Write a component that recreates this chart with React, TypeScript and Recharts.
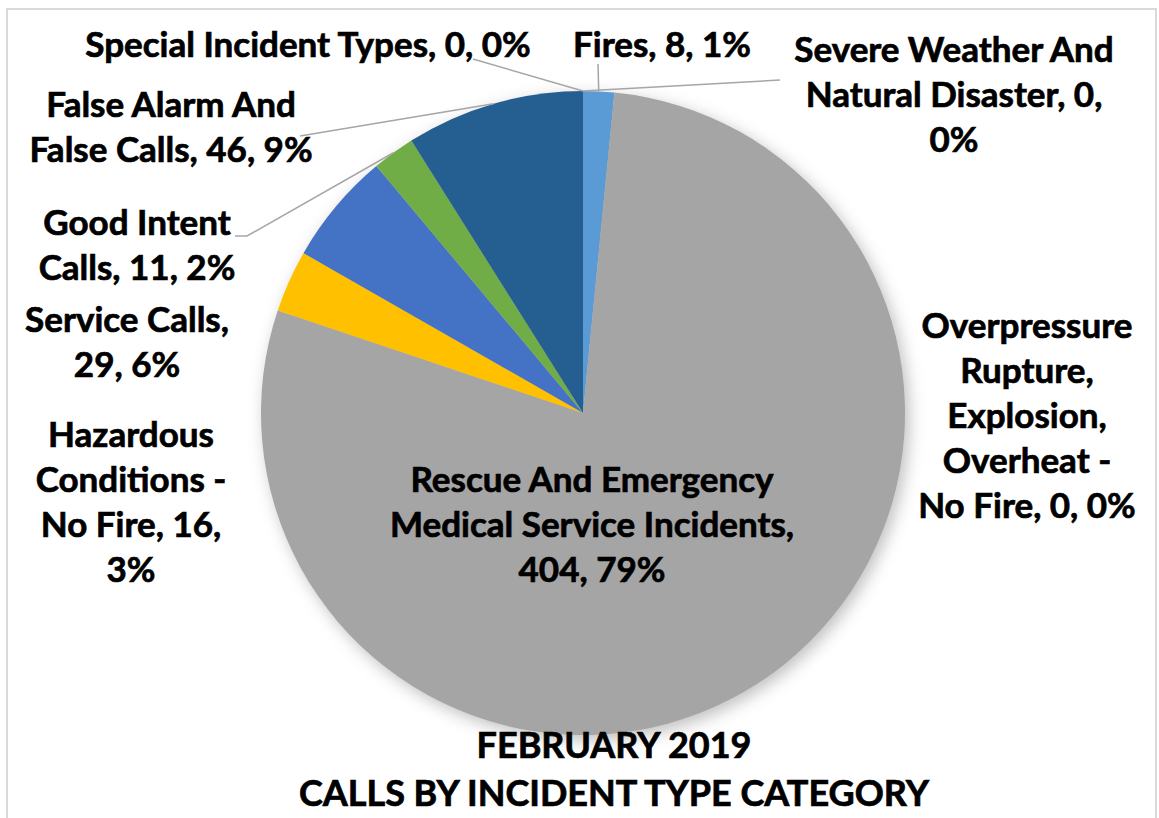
import { PieChart, Pie, Cell } from 'recharts'

// incident categories in chart order (clockwise from 12 o'clock)
const CATEGORIES = [
    'Fires',
    'Overpressure Rupture, Explosion, Overheat - No Fire',
    'Rescue And Emergency Medical Service Incidents',
    'Hazardous Conditions - No Fire',
    'Service Calls',
    'Good Intent Calls',
    'False Alarm And False Calls',
    'Severe Weather And Natural Disaster',
    'Special Incident Types',
]
const CALLS = [8, 0, 404, 16, 29, 11, 46, 0, 0]
const PERCENT_LABELS = ['1%', '0%', '79%', '3%', '6%', '2%', '9%', '0%', '0%']
const TITLE_LINES = ['FEBRUARY 2019', 'CALLS BY INCIDENT TYPE CATEGORY']

const COLORS = ['#5B9BD5', '#ED7D31', '#A5A5A5', '#FFC000', '#4472C4', '#70AD47', '#255E91', '#9E480E', '#636363']

const FONT = 'Lato, "Open Sans", sans-serif'
const LABEL_SIZE = 35
const LINE_H = 45
const LEADER = '#A6A6A6'

// where each data label sits (centre x, first baseline), how its words wrap, and leader line end points
const LABEL_LAYOUT: { x: number; y: number; breaks: number[]; leader?: [number, number][] }[] = [
    { x: 662, y: 57, breaks: [4], leader: [[598, 64]] },
    { x: 1027, y: 338, breaks: [1, 1, 1, 2, 4] },
    { x: 592, y: 492, breaks: [3, 3, 2] },
    { x: 131, y: 447, breaks: [1, 2, 3, 1] },
    { x: 127, y: 332, breaks: [2, 2] },
    { x: 137, y: 235, breaks: [2, 3], leader: [[247, 236], [235, 236]] },
    { x: 171, y: 117, breaks: [3, 4], leader: [[300, 136]] },
    { x: 954, y: 62, breaks: [3, 3, 1], leader: [[780, 80]] },
    { x: 308, y: 57, breaks: [6], leader: [[473, 59]] },
]

const data = CATEGORIES.map((name, i) => ({ name, value: CALLS[i] }))

const RAD = Math.PI / 180

const renderLabel = (props: any) => {
    const { cx, cy, midAngle, outerRadius, index } = props
    const lay = LABEL_LAYOUT[index]
    const words = `${CATEGORIES[index]}, ${CALLS[index]}, ${PERCENT_LABELS[index]}`.split(' ')
    const lines: string[] = []
    let k = 0
    for (const n of lay.breaks) {
        lines.push(words.slice(k, k + n).join(' '))
        k += n
    }
    const sx = cx + outerRadius * Math.cos(-midAngle * RAD)
    const sy = cy + outerRadius * Math.sin(-midAngle * RAD)
    const pts = [[sx, sy], ...(lay.leader || [])].map((p) => p.join(',')).join(' ')
    return (
        <g key={`label-${index}`}>
            {lay.leader && <polyline points={pts} fill="none" stroke={LEADER} strokeWidth={1.5} />}
            <text
                x={lay.x}
                y={lay.y}
                textAnchor="middle"
                fontFamily={FONT}
                fontWeight={700}
                fontSize={LABEL_SIZE}
                fill="#000"
                stroke="#000"
                strokeWidth={0.7}
            >
                {lines.map((l, i) => (
                    <tspan key={i} x={lay.x} dy={i === 0 ? 0 : LINE_H}>
                        {l}
                    </tspan>
                ))}
            </text>
        </g>
    )
}

export default function App() {
    return (
        <div style={{ position: 'relative', width: 1159, height: 818, overflow: 'hidden', background: '#fff' }}>
            <style>{`body { margin: 0; } .pie-shadow { filter: blur(6px); }`}</style>
            <div
                style={{
                    position: 'absolute',
                    left: 6,
                    top: 8,
                    width: 1147,
                    height: 840,
                    border: '2px solid #D9D9D9',
                }}
            />
            <PieChart width={1159} height={818} margin={{ top: 0, right: 0, bottom: 0, left: 0 }}>
                <Pie
                    data={data}
                    dataKey="value"
                    cx={587}
                    cy={418}
                    outerRadius={322}
                    startAngle={90}
                    endAngle={-270}
                    stroke="none"
                    fill="rgba(0,0,0,0.25)"
                    className="pie-shadow"
                    isAnimationActive={false}
                    label={false}
                    labelLine={false}
                />
                <Pie
                    data={data}
                    dataKey="value"
                    cx={583}
                    cy={413}
                    outerRadius={322}
                    startAngle={90}
                    endAngle={-270}
                    stroke="none"
                    isAnimationActive={false}
                    label={renderLabel}
                    labelLine={false}
                >
                    {data.map((entry, index) => (
                        <Cell key={`cell-${index}`} fill={COLORS[index % COLORS.length]} />
                    ))}
                </Pie>
            </PieChart>
            <div
                style={{
                    position: 'absolute',
                    left: 0,
                    top: 720,
                    width: 1228,
                    textAlign: 'center',
                    fontFamily: FONT,
                    fontWeight: 700,
                    fontSize: 36,
                    lineHeight: '48px',
                    color: '#000',
                    WebkitTextStroke: '0.7px #000',
                }}
            >
                {TITLE_LINES.map((t) => (
                    <div key={t}>{t}</div>
                ))}
            </div>
        </div>
    )
}
